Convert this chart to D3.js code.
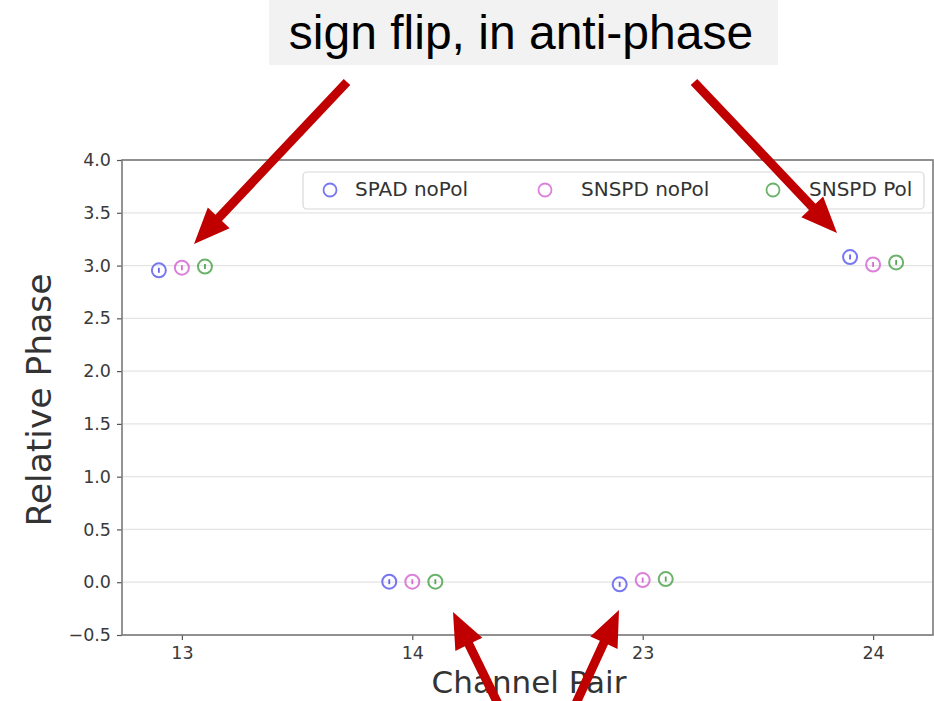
<!DOCTYPE html>
<html>
<head>
<meta charset="utf-8">
<script src="https://cdn.jsdelivr.net/npm/d3@7"></script>
<style>
  html, body { margin: 0; padding: 0; background: #fff; }
  svg { display: block; }
</style>
</head>
<body>
<svg id="chart" width="934" height="701"></svg>
<script>
// Channel pairs on the x axis
const categories = ["13", "14", "23", "24"];
// Relative phase per detector configuration
const spadNoPol  = [2.955, 0.005, -0.02, 3.08];
const snspdNoPol = [2.98, 0.005, 0.02, 3.01];
const snspdPol   = [2.99, 0.005, 0.03, 3.03];
const seriesNames = ["SPAD noPol", "SNSPD noPol", "SNSPD Pol"];
const yTicks = [-0.5, 0.0, 0.5, 1.0, 1.5, 2.0, 2.5, 3.0, 3.5, 4.0];
const titleText = "sign flip, in anti-phase";

const series = [
  { name: seriesNames[0], values: spadNoPol,  color: "#4a4aee", offset: -0.1 },
  { name: seriesNames[1], values: snspdNoPol, color: "#cf55cf", offset: 0.0 },
  { name: seriesNames[2], values: snspdPol,   color: "#3a993a", offset: 0.1 }
];

const svg = d3.select("#chart");
const plot = { left: 122, right: 933, top: 160, bottom: 635 };

const x = d3.scaleLinear().domain([-0.26, 3.26]).range([plot.left, plot.right]);
const y = d3.scaleLinear().domain([-0.5, 4.0]).range([plot.bottom, plot.top]);

// Horizontal grid
svg.append("g")
  .selectAll("line").data(yTicks).join("line")
  .attr("x1", plot.left).attr("x2", plot.right)
  .attr("y1", d => y(d)).attr("y2", d => y(d))
  .attr("stroke", "#e4e4e4").attr("stroke-width", 1.3);

// Axes
const yAxis = d3.axisLeft(y).tickValues(yTicks)
  .tickFormat(d => (d < 0 ? "\u22120.5" : d3.format(".1f")(d)))
  .tickSize(5).tickPadding(6);
const gy = svg.append("g").attr("transform", `translate(${plot.left},0)`).call(yAxis);

const xAxis = d3.axisBottom(x).tickValues(d3.range(categories.length))
  .tickFormat(i => categories[i]).tickSize(5).tickPadding(7);
const gx = svg.append("g").attr("transform", `translate(0,${plot.bottom})`).call(xAxis);

[gx, gy].forEach(g => {
  g.select(".domain").remove();
  g.selectAll(".tick line").attr("stroke", "#555").attr("stroke-width", 1.2);
  g.selectAll(".tick text").attr("fill", "#3a3a3a")
    .style("font-family", "DejaVu Sans, sans-serif").style("font-size", "17.5px");
});

// Frame
svg.append("rect")
  .attr("x", plot.left).attr("y", plot.top)
  .attr("width", plot.right - plot.left).attr("height", plot.bottom - plot.top)
  .attr("fill", "none").attr("stroke", "#7a7a7a").attr("stroke-width", 1.6);

// Data markers: open circle with a tiny error bar at the centre
series.forEach(s => {
  const g = svg.append("g");
  g.selectAll("circle").data(s.values).join("circle")
    .attr("cx", (d, i) => x(i + s.offset))
    .attr("cy", d => y(d))
    .attr("r", 7)
    .attr("fill", "none")
    .attr("stroke", s.color).attr("stroke-opacity", 0.75).attr("stroke-width", 2);
  g.selectAll("line").data(s.values).join("line")
    .attr("x1", (d, i) => x(i + s.offset)).attr("x2", (d, i) => x(i + s.offset))
    .attr("y1", d => y(d) - 2.5).attr("y2", d => y(d) + 2.5)
    .attr("stroke", s.color).attr("stroke-opacity", 0.85).attr("stroke-width", 1.8);
});

// Legend
const legend = svg.append("g");
legend.append("rect")
  .attr("x", 303).attr("y", 172).attr("width", 621).attr("height", 37)
  .attr("rx", 4).attr("fill", "#fff").attr("fill-opacity", 0.85)
  .attr("stroke", "#d8d8d8").attr("stroke-width", 1.2);
const legendX = [330, 545, 773];
const legendTextX = [355, 581, 809];
series.forEach((s, k) => {
  legend.append("circle")
    .attr("cx", legendX[k]).attr("cy", 190).attr("r", 6.5)
    .attr("fill", "none").attr("stroke", s.color)
    .attr("stroke-opacity", 0.75).attr("stroke-width", 1.8);
  legend.append("text")
    .attr("x", legendTextX[k]).attr("y", 196)
    .attr("fill", "#333")
    .style("font-family", "DejaVu Sans, sans-serif").style("font-size", "20px")
    .text(s.name);
});

// Axis titles
svg.append("text")
  .attr("transform", "translate(51,400) rotate(-90)")
  .attr("text-anchor", "middle").attr("fill", "#333")
  .style("font-family", "DejaVu Sans, sans-serif").style("font-size", "34.5px")
  .text("Relative Phase");
svg.append("text")
  .attr("x", 529).attr("y", 693)
  .attr("text-anchor", "middle").attr("fill", "#333")
  .style("font-family", "DejaVu Sans, sans-serif").style("font-size", "31px")
  .text("Channel Pair");

// Annotation box
svg.append("rect")
  .attr("x", 269).attr("y", 0).attr("width", 509).attr("height", 65)
  .attr("fill", "#f2f2f2");
svg.append("text")
  .attr("x", 521).attr("y", 49)
  .attr("text-anchor", "middle").attr("fill", "#000")
  .style("font-family", "Liberation Sans, Arial, sans-serif").style("font-size", "48px")
  .text(titleText);

// Annotation arrows
function arrow(x1, y1, x2, y2) {
  const dx = x2 - x1, dy = y2 - y1;
  const len = Math.hypot(dx, dy);
  const ux = dx / len, uy = dy / len;
  const px = -uy, py = ux;
  const headLen = 36, headHalf = 15, shaftHalf = 4.5;
  const bx = x2 - ux * headLen, by = y2 - uy * headLen;
  const pts = [
    [x1 + px * shaftHalf, y1 + py * shaftHalf],
    [bx + px * shaftHalf, by + py * shaftHalf],
    [bx + px * headHalf, by + py * headHalf],
    [x2, y2],
    [bx - px * headHalf, by - py * headHalf],
    [bx - px * shaftHalf, by - py * shaftHalf],
    [x1 - px * shaftHalf, y1 - py * shaftHalf]
  ];
  svg.append("path")
    .attr("d", "M" + pts.map(p => p.join(",")).join("L") + "Z")
    .attr("fill", "#c00000");
}
arrow(347, 82, 194, 244);
arrow(694, 82, 837, 233);
arrow(502, 712, 453, 612);
arrow(572, 712, 619, 610);
</script>
</body>
</html>
